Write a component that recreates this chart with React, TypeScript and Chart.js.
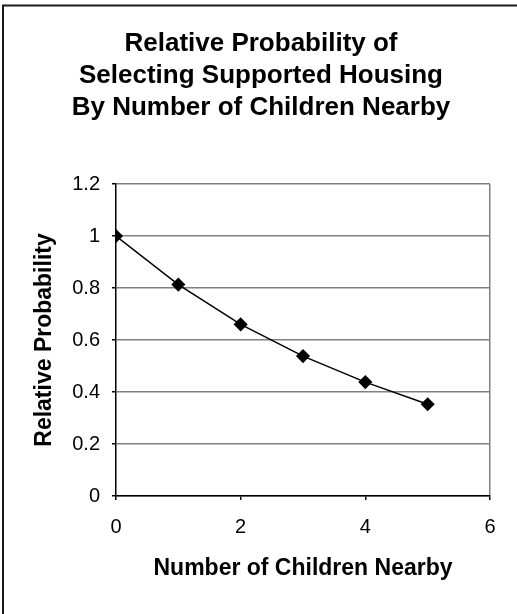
import React, { useEffect, useRef } from "react";
import { Chart, registerables } from "chart.js";

Chart.register(...registerables);

// Number of children nearby (x) and relative probability (y)
const childrenNearby = [0, 1, 2, 3, 4, 5];
const relativeProbability = [1.0, 0.813, 0.66, 0.538, 0.438, 0.353];

const titleLines = [
  "Relative Probability of",
  "Selecting Supported Housing",
  "By Number of Children Nearby",
];
const xAxisTitle = "Number of Children Nearby";
const yAxisTitle = "Relative Probability";

const FONT = "Arial, 'Liberation Sans', Helvetica, sans-serif";

// Frame around the chart (only its top and left edges fall inside the canvas)
const framePlugin = {
  id: "frame",
  beforeDraw(chart: Chart) {
    const { ctx, width, height } = chart;
    ctx.save();
    ctx.fillStyle = "#ffffff";
    ctx.fillRect(0, 0, width, height);
    ctx.strokeStyle = "#1a1a1a";
    ctx.lineWidth = 2;
    ctx.beginPath();
    ctx.moveTo(3, height + 2);
    ctx.lineTo(3, 5.5);
    ctx.lineTo(width + 2, 5.5);
    ctx.stroke();
    ctx.restore();
  },
};

export default function App() {
  const canvasRef = useRef<HTMLCanvasElement | null>(null);

  useEffect(() => {
    if (!canvasRef.current) return;
    const chart = new Chart(canvasRef.current, {
      type: "line",
      data: {
        datasets: [
          {
            data: childrenNearby.map((x, i) => ({ x, y: relativeProbability[i] })),
            borderColor: "#000000",
            backgroundColor: "#000000",
            borderWidth: 1.5,
            pointStyle: "rectRot",
            pointRadius: 6,
            pointBackgroundColor: "#000000",
            pointBorderColor: "#000000",
            tension: 0,
            fill: false,
          },
        ],
      },
      options: {
        responsive: false,
        animation: false,
        layout: { padding: { left: 5, right: 0, top: 0, bottom: 0 } },
        plugins: {
          legend: { display: false },
          tooltip: { enabled: false },
          title: {
            display: true,
            text: titleLines,
            color: "#000000",
            font: { family: FONT, size: 26, weight: "bold", lineHeight: "32px" },
            padding: { top: 28, bottom: 60 },
          },
        },
        scales: {
          x: {
            type: "linear",
            min: 0,
            max: 6,
            afterFit(scale: any) {
              scale.height = 118;
            },
            ticks: {
              stepSize: 2,
              color: "#000000",
              padding: 15,
              font: { family: FONT, size: 20 },
            },
            grid: {
              drawOnChartArea: true,
              color: (c: any) => (c.tick && c.tick.value === 6 ? "#808080" : "rgba(0,0,0,0)"),
              tickColor: "#000000",
              tickLength: 4,
              lineWidth: 1.5,
            },
            border: { display: true, color: "#000000", width: 1.5 },
            title: {
              display: true,
              text: xAxisTitle,
              color: "#000000",
              font: { family: FONT, size: 23, weight: "bold" },
              padding: { top: 0, bottom: 32 },
            },
          },
          y: {
            type: "linear",
            min: 0,
            max: 1.2,
            afterFit(scale: any) {
              scale.width = 111;
            },
            ticks: {
              stepSize: 0.2,
              color: "#000000",
              padding: 12,
              font: { family: FONT, size: 20 },
              callback: (v: any) => String(Number(Number(v).toFixed(1))),
            },
            grid: {
              color: "#808080",
              tickColor: "#000000",
              tickLength: 4,
              lineWidth: 1.5,
            },
            border: { display: true, color: "#000000", width: 1.5 },
            title: {
              display: true,
              text: yAxisTitle,
              color: "#000000",
              font: { family: FONT, size: 23, weight: "bold" },
              padding: { top: 26, bottom: 0 },
            },
          },
          // empty right-hand margin scale so the plot ends at x = 6 while the title stays centred on the frame
          margin: {
            type: "linear",
            position: "right",
            display: true,
            afterFit(scale: any) {
              scale.width = 27;
            },
            ticks: { display: false },
            grid: { display: false, drawOnChartArea: false },
            border: { display: false },
          },
        },
      },
      plugins: [framePlugin],
    });
    return () => chart.destroy();
  }, []);

  return (
    <canvas
      ref={canvasRef}
      width={517}
      height={614}
      style={{ position: "absolute", left: 0, top: 0, display: "block" }}
    />
  );
}
